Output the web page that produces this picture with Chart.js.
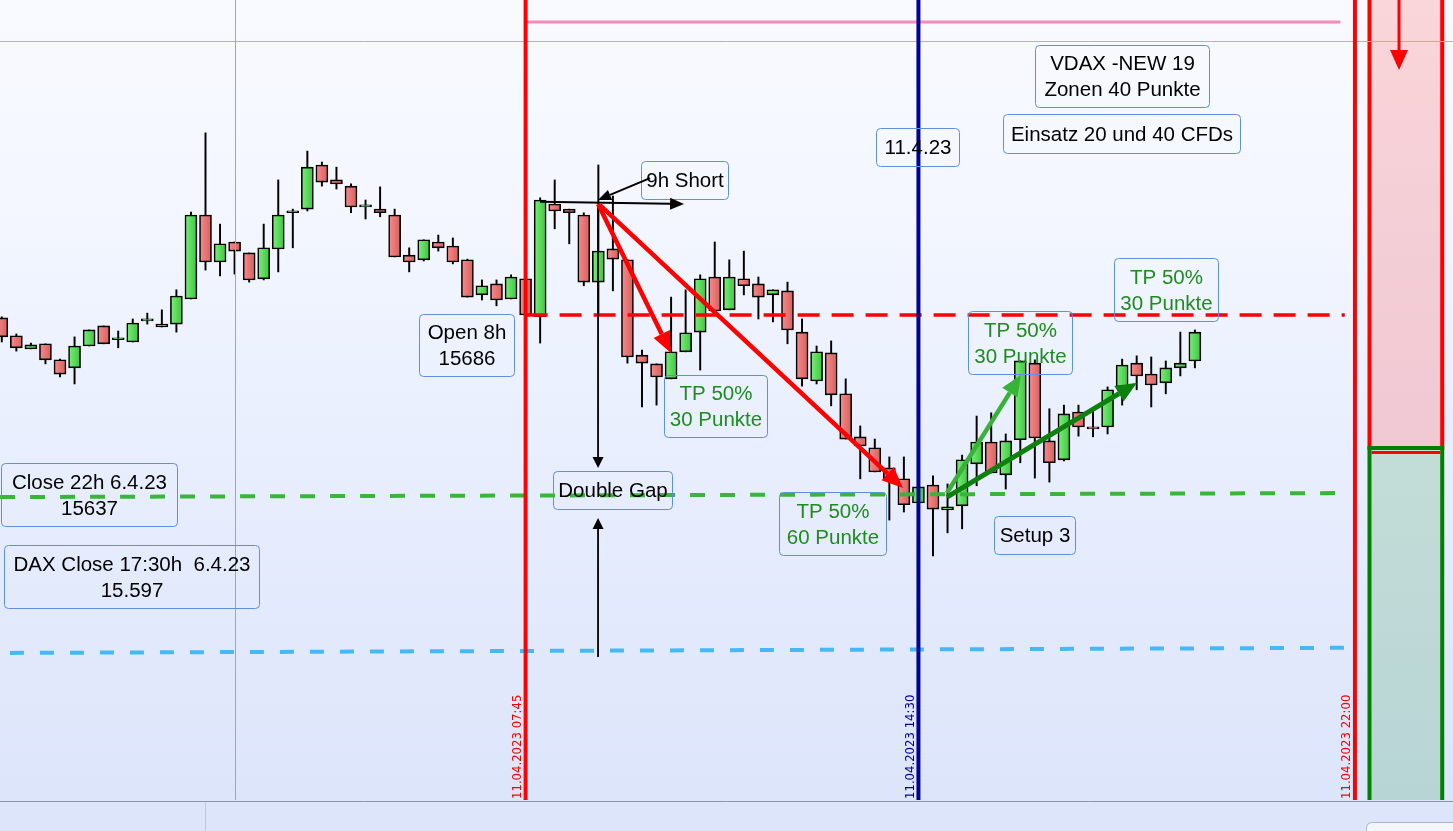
<!DOCTYPE html>
<html>
<head>
<meta charset="utf-8">
<script src="https://cdn.jsdelivr.net/npm/chart.js@4.4.0/dist/chart.umd.min.js"></script>
<style>
  html, body { margin: 0; padding: 0; background: #dde6fb; overflow: hidden; }
  #wrap { position: relative; width: 1453px; height: 831px; }
</style>
</head>
<body>
<div id="wrap"><canvas id="chart" width="1453" height="831"></canvas></div>
<script>
// 15-min candles, index 0..82 (07:45 = index 36, 14:30 = index 63, 22:00 = index 93)
const open = [15685.2, 15680.3, 15676.7, 15678.1, 15673.7, 15671.5, 15677.5, 15683.0, 15679.2, 15678.6,
  15684.4, 15683.5, 15683.5, 15690.4, 15713.4, 15700.5, 15706.0, 15703.0, 15695.9, 15704.1,
  15714.0, 15715.0, 15727.1, 15723.0, 15721.3, 15715.6, 15715.0, 15713.4, 15702.4, 15701.1,
  15706.0, 15704.9, 15701.1, 15691.5, 15694.5, 15690.4, 15695.9, 15685.5, 15716.4, 15715.0,
  15713.4, 15695.0, 15704.1, 15701.1, 15675.0, 15672.6, 15668.5, 15675.9, 15681.3, 15696.4,
  15687.4, 15695.9, 15694.5, 15691.5, 15692.6, 15681.3, 15667.9, 15675.6, 15664.4, 15652.6,
  15649.6, 15644.1, 15641.1, 15634.5, 15639.4, 15632.6, 15633.7, 15645.2, 15651.2, 15642.2,
  15651.8, 15672.8, 15651.5, 15646.3, 15659.4, 15655.3, 15655.3, 15666.3, 15672.8, 15669.8,
  15667.4, 15671.5, 15673.4];
const high = [15685.5, 15680.8, 15678.3, 15678.1, 15673.9, 15680.0, 15681.9, 15683.0, 15681.6, 15684.9,
  15686.5, 15687.4, 15692.9, 15714.2, 15735.9, 15710.9, 15706.0, 15703.0, 15710.9, 15723.0,
  15715.0, 15730.9, 15727.9, 15726.5, 15721.9, 15717.5, 15721.1, 15715.0, 15704.4, 15706.6,
  15707.9, 15707.1, 15701.3, 15695.6, 15695.6, 15697.0, 15697.0, 15718.1, 15723.0, 15715.0,
  15714.0, 15727.1, 15718.6, 15701.1, 15676.4, 15672.6, 15690.9, 15692.9, 15697.0, 15706.0,
  15701.1, 15703.5, 15696.4, 15692.9, 15695.0, 15684.9, 15677.5, 15678.9, 15668.5, 15655.6,
  15652.0, 15647.1, 15647.1, 15638.9, 15641.9, 15639.7, 15647.6, 15658.3, 15659.2, 15653.4,
  15673.4, 15673.7, 15660.3, 15661.3, 15661.3, 15659.7, 15666.3, 15673.9, 15674.8, 15674.5,
  15673.4, 15681.3, 15681.9];
const low = [15678.6, 15676.1, 15676.7, 15672.6, 15669.0, 15667.1, 15677.5, 15678.1, 15677.0, 15678.6,
  15683.5, 15682.7, 15681.3, 15690.4, 15698.3, 15696.7, 15697.2, 15695.0, 15695.6, 15697.8,
  15704.4, 15714.5, 15721.3, 15720.5, 15714.0, 15712.3, 15712.9, 15701.9, 15697.8, 15700.8,
  15703.5, 15700.0, 15690.9, 15690.1, 15688.5, 15690.4, 15685.5, 15678.3, 15709.6, 15705.5,
  15694.0, 15686.5, 15692.6, 15672.8, 15660.8, 15661.3, 15668.5, 15675.9, 15670.9, 15687.1,
  15687.4, 15691.5, 15684.9, 15684.1, 15678.1, 15666.5, 15667.1, 15661.1, 15652.0, 15641.1,
  15643.0, 15629.8, 15632.0, 15634.5, 15620.0, 15626.3, 15627.4, 15639.2, 15642.7, 15638.3,
  15645.5, 15641.3, 15640.2, 15646.0, 15652.8, 15652.6, 15653.4, 15661.3, 15665.5, 15660.8,
  15664.4, 15669.3, 15671.5];
const close = [15680.0, 15677.0, 15677.8, 15673.7, 15669.8, 15677.5, 15681.9, 15678.1, 15679.7, 15683.8,
  15684.4, 15682.7, 15691.2, 15713.4, 15700.5, 15705.5, 15703.5, 15695.6, 15704.4, 15713.4,
  15714.5, 15726.5, 15722.4, 15721.9, 15715.6, 15715.6, 15714.0, 15701.9, 15700.5, 15706.6,
  15704.4, 15700.5, 15690.9, 15694.0, 15690.1, 15696.4, 15686.0, 15717.5, 15714.5, 15714.0,
  15695.0, 15703.5, 15701.3, 15674.5, 15672.8, 15669.0, 15675.9, 15681.1, 15695.9, 15687.1,
  15696.4, 15694.0, 15690.9, 15692.9, 15681.9, 15668.5, 15675.9, 15664.1, 15652.0, 15650.1,
  15643.0, 15641.1, 15634.0, 15638.9, 15632.8, 15633.4, 15646.3, 15651.2, 15642.7, 15651.5,
  15673.4, 15652.3, 15645.5, 15658.9, 15655.3, 15654.8, 15665.5, 15672.3, 15669.3, 15666.8,
  15671.5, 15672.8, 15681.3];

// price levels
const open8h = 15686;
const close22h = [15636.1, 15637.2];
const daxClose = [15593.4, 15594.8];
const zoneTop = 15766.3;
const zoneSplit = 15649.0;

// time markers (candle index)
const markers = [
  { i: 36, label: '11.04.2023 07:45', color: '#ff0000' },
  { i: 63, label: '11.04.2023 14:30', color: '#00009c' },
  { i: 93, label: '11.04.2023 22:00', color: '#ff0000' }
];

const GREEN_TXT = '#1f8c1f';
const boxes = [
  { x1: 71.01, x2: 82.97, y1: 15760.0, y2: 15743.0, lines: ['VDAX -NEW 19', 'Zonen 40 Punkte'] },
  { x1: 68.81, x2: 85.10, y1: 15741.1, y2: 15730.4, lines: ['Einsatz 20 und 40 CFDs'] },
  { x1: 60.08, x2: 65.79, y1: 15737.2, y2: 15726.8, lines: ['11.4.23'] },
  { x1: 43.93, x2: 49.91, y1: 15728.2, y2: 15717.8, lines: ['9h Short'] },
  { x1: 28.67, x2: 35.20, y1: 15686.3, y2: 15669.3, lines: ['Open 8h', '15686'] },
  { x1: 45.51, x2: 52.59, y1: 15669.6, y2: 15652.6, lines: ['TP 50%', '30 Punkte'], color: GREEN_TXT },
  { x1: 37.88, x2: 46.06, y1: 15643.3, y2: 15632.8, lines: ['Double Gap'] },
  { x1: -0.05, x2: 12.04, y1: 15645.5, y2: 15628.2, lines: ['Close 22h 6.4.23', '15637'] },
  { x1: 0.15, x2: 17.68, y1: 15623.0, y2: 15605.7, lines: ['DAX Close 17:30h  6.4.23', '15.597'] },
  { x1: 53.42, x2: 60.77, y1: 15637.5, y2: 15620.2, lines: ['TP 50%', '60 Punkte'], color: GREEN_TXT },
  { x1: 68.19, x2: 73.76, y1: 15630.9, y2: 15620.5, lines: ['Setup 3'] },
  { x1: 66.40, x2: 73.55, y1: 15687.1, y2: 15669.8, lines: ['TP 50%', '30 Punkte'], color: GREEN_TXT },
  { x1: 76.44, x2: 83.59, y1: 15701.6, y2: 15684.4, lines: ['TP 50%', '30 Punkte'], color: GREEN_TXT }
];

const arrows = [
  { from: [44.55, 15723.5], to: [40.98, 15717.5], color: '#000', lw: 2, hl: 13, hw: 11 },
  { from: [36.99, 15717.0], to: [46.89, 15716.4], color: '#000', lw: 2, hl: 14, hw: 12 },
  { from: [40.98, 15716.1], to: [40.98, 15644.1], color: '#000', lw: 1.8, hl: 11, hw: 11 },
  { from: [40.98, 15592.3], to: [40.98, 15630.4], color: '#000', lw: 1.8, hl: 11, hw: 11 },
  { from: [40.98, 15716.4], to: [45.99, 15675.6], color: '#ff0000', lw: 4.5, hl: 21, hw: 18 },
  { from: [41.11, 15716.1], to: [61.94, 15638.6], color: '#ff0000', lw: 4.5, hl: 21, hw: 18 },
  { from: [64.96, 15637.2], to: [70.05, 15669.6], color: '#38b238', lw: 4.5, hl: 21, hw: 18 },
  { from: [64.96, 15636.1], to: [78.02, 15667.4], color: '#0e800e', lw: 5, hl: 21, hw: 18 },
  { from: [96.03, 15775], to: [96.03, 15753.1], color: '#ff0000', lw: 3, hl: 20, hw: 18 }
];

const idx = open.map((_, i) => i);

function bodyFill(c) {
  const up = close[c.dataIndex] >= open[c.dataIndex];
  const chart = c.chart;
  const sx = chart.scales && chart.scales.x;
  if (c.type !== 'data' || !chart.chartArea || !sx) return up ? '#55d855' : '#e87272';
  const px = sx.getPixelForValue(c.dataIndex);
  const g = chart.ctx.createLinearGradient(px - 6, 0, px + 6, 0);
  if (up) { g.addColorStop(0, '#7cee7c'); g.addColorStop(1, '#3cc63c'); }
  else { g.addColorStop(0, '#f68c8c'); g.addColorStop(1, '#d85e5e'); }
  return g;
}

function arrow(ctx, x1, y1, x2, y2, color, lw, hl, hw) {
  const a = Math.atan2(y2 - y1, x2 - x1);
  const bx = x2 - Math.cos(a) * hl, by = y2 - Math.sin(a) * hl;
  ctx.strokeStyle = color; ctx.fillStyle = color; ctx.lineWidth = lw;
  ctx.setLineDash([]);
  ctx.beginPath(); ctx.moveTo(x1, y1); ctx.lineTo(bx, by); ctx.stroke();
  ctx.beginPath();
  ctx.moveTo(x2, y2);
  ctx.lineTo(bx + Math.sin(a) * hw / 2, by - Math.cos(a) * hw / 2);
  ctx.lineTo(bx - Math.sin(a) * hw / 2, by + Math.cos(a) * hw / 2);
  ctx.closePath(); ctx.fill();
}

function rrect(ctx, x, y, w, h, r) {
  ctx.beginPath();
  ctx.moveTo(x + r, y); ctx.lineTo(x + w - r, y); ctx.quadraticCurveTo(x + w, y, x + w, y + r);
  ctx.lineTo(x + w, y + h - r); ctx.quadraticCurveTo(x + w, y + h, x + w - r, y + h);
  ctx.lineTo(x + r, y + h); ctx.quadraticCurveTo(x, y + h, x, y + h - r);
  ctx.lineTo(x, y + r); ctx.quadraticCurveTo(x, y, x + r, y);
  ctx.closePath();
}

const overlay = {
  id: 'overlay',
  beforeDraw(chart) {
    const ctx = chart.ctx, W = chart.width, H = chart.height, a = chart.chartArea;
    const g = ctx.createLinearGradient(0, 0, 0, a.bottom);
    g.addColorStop(0, '#f8faff');
    g.addColorStop(0.25, '#f4f7ff');
    g.addColorStop(0.5, '#eaf0fe');
    g.addColorStop(0.75, '#e3eafc');
    g.addColorStop(1, '#dde5fb');
    ctx.save();
    ctx.fillStyle = g; ctx.fillRect(0, 0, W, a.bottom);
    ctx.fillStyle = '#dde5fa'; ctx.fillRect(0, a.bottom, W, H - a.bottom);
    ctx.strokeStyle = '#8a96a6'; ctx.lineWidth = 1;
    ctx.beginPath(); ctx.moveTo(0, a.bottom + 1.5); ctx.lineTo(W, a.bottom + 1.5); ctx.stroke();
    ctx.strokeStyle = '#bcc8dc';
    ctx.beginPath(); ctx.moveTo(205.5, a.bottom + 2); ctx.lineTo(205.5, H); ctx.stroke();
    ctx.fillStyle = '#f4f6fb'; ctx.strokeStyle = '#aab4c4';
    rrect(ctx, 1366.5, a.bottom + 22.5, 100, 20, 6); ctx.fill(); ctx.stroke();
    ctx.restore();
  },
  afterDatasetsDraw(chart) {
    const ctx = chart.ctx, a = chart.chartArea;
    const X = v => chart.scales.x.getPixelForValue(v);
    const Y = v => chart.scales.y.getPixelForValue(v);
    ctx.save();
    ctx.beginPath(); ctx.rect(a.left, a.top, a.right - a.left, a.bottom - a.top); ctx.clip();

    // zone panel
    const px1 = X(94), px2 = X(99), py = Y(zoneSplit);
    let gz = ctx.createLinearGradient(0, a.top, 0, py);
    gz.addColorStop(0, '#fad5d9'); gz.addColorStop(1, '#efc8d3');
    ctx.fillStyle = gz; ctx.fillRect(px1, a.top, px2 - px1, py - a.top);
    gz = ctx.createLinearGradient(0, py, 0, a.bottom);
    gz.addColorStop(0, '#c3ddd7'); gz.addColorStop(1, '#b8d5d6');
    ctx.fillStyle = gz; ctx.fillRect(px1, py, px2 - px1, a.bottom - py);
    ctx.lineWidth = 4; ctx.strokeStyle = '#ff0000';
    ctx.beginPath(); ctx.moveTo(px1, a.top); ctx.lineTo(px1, py); ctx.moveTo(px2, a.top); ctx.lineTo(px2, py); ctx.stroke();
    ctx.strokeStyle = '#008000';
    ctx.beginPath(); ctx.moveTo(px1, a.bottom); ctx.lineTo(px1, py - 2); ctx.lineTo(px2, py - 2); ctx.lineTo(px2, a.bottom); ctx.stroke();
    ctx.strokeStyle = '#ff0000'; ctx.lineWidth = 3;
    ctx.beginPath(); ctx.moveTo(px1 + 2, py + 2.5); ctx.lineTo(px2 - 2, py + 2.5); ctx.stroke();

    // thin horizontal line and pink zone line
    ctx.lineWidth = 1; ctx.strokeStyle = '#f29a9a';
    ctx.beginPath(); ctx.moveTo(a.left, Math.round(Y(15761.1)) + 0.5); ctx.lineTo(a.right, Math.round(Y(15761.1)) + 0.5); ctx.stroke();
    ctx.lineWidth = 3; ctx.strokeStyle = '#ff88bb';
    ctx.beginPath(); ctx.moveTo(X(36), Y(zoneTop)); ctx.lineTo(X(92), Y(zoneTop)); ctx.stroke();

    // thin red vertical
    ctx.lineWidth = 1; ctx.strokeStyle = '#f58484';
    ctx.beginPath(); ctx.moveTo(Math.round(X(16)) + 0.5, a.top); ctx.lineTo(Math.round(X(16)) + 0.5, a.bottom); ctx.stroke();

    // dashed levels
    ctx.lineWidth = 3.5; ctx.strokeStyle = '#ff0000'; ctx.setLineDash([22, 12]);
    ctx.beginPath(); ctx.moveTo(X(36), Y(open8h)); ctx.lineTo(X(92.3), Y(open8h)); ctx.stroke();
    ctx.lineWidth = 4; ctx.strokeStyle = '#3ab53a'; ctx.setLineDash([15, 15]);
    ctx.beginPath(); ctx.moveTo(X(-0.12), Y(close22h[0])); ctx.lineTo(X(92.3), Y(close22h[1])); ctx.stroke();
    ctx.strokeStyle = '#45b9f6'; ctx.setLineDash([14, 16]);
    ctx.beginPath(); ctx.moveTo(X(0.56), Y(daxClose[0])); ctx.lineTo(X(92.3), Y(daxClose[1])); ctx.stroke();
    ctx.setLineDash([]);

    // time marker lines + rotated labels
    markers.forEach(m => {
      const x = X(m.i);
      ctx.lineWidth = 4; ctx.strokeStyle = m.color;
      ctx.beginPath(); ctx.moveTo(x, a.top); ctx.lineTo(x, a.bottom); ctx.stroke();
      ctx.save();
      ctx.translate(x - 8, a.bottom - 1);
      ctx.rotate(-Math.PI / 2);
      ctx.fillStyle = m.color;
      ctx.font = '13px "Liberation Sans Narrow", "DejaVu Sans Condensed", sans-serif';
      ctx.textAlign = 'left'; ctx.textBaseline = 'middle';
      ctx.fillText(m.label, 0, 0);
      ctx.restore();
    });

    // text boxes
    ctx.font = '20.5px "Liberation Sans", Arial, sans-serif';
    ctx.textAlign = 'center'; ctx.textBaseline = 'middle';
    boxes.forEach(b => {
      const x1 = Math.round(X(b.x1)) + 0.5, x2 = Math.round(X(b.x2)) + 0.5;
      const y1 = Math.round(Y(b.y1)) + 0.5, y2 = Math.round(Y(b.y2)) + 0.5;
      ctx.lineWidth = 1; ctx.strokeStyle = '#5d8fe3';
      rrect(ctx, x1, y1, x2 - x1, y2 - y1, 4); ctx.stroke();
      ctx.fillStyle = b.color || '#000';
      const cx = (x1 + x2) / 2, cy = (y1 + y2) / 2 + 1;
      const n = b.lines.length;
      b.lines.forEach((t, k) => ctx.fillText(t, cx, cy + (k - (n - 1) / 2) * 26));
    });

    // arrows
    arrows.forEach(r => arrow(ctx, X(r.from[0]), Y(r.from[1]), X(r.to[0]), Y(r.to[1]), r.color, r.lw, r.hl, r.hw));
    ctx.restore();
  }
};

new Chart(document.getElementById('chart'), {
  type: 'bar',
  data: {
    datasets: [
      {
        label: 'Body',
        data: idx.map(i => ({ x: i, y: [open[i], close[i]] })),
        backgroundColor: bodyFill,
        borderColor: '#000',
        borderWidth: 1.6,
        borderSkipped: false,
        barThickness: 12,
        minBarLength: 2,
        grouped: false,
        order: 0
      },
      {
        label: 'Wick',
        data: idx.map(i => ({ x: i, y: [low[i], high[i]] })),
        backgroundColor: '#000',
        borderWidth: 0,
        barThickness: 1.3,
        grouped: false,
        order: 1
      }
    ]
  },
  options: {
    responsive: false,
    animation: false,
    devicePixelRatio: 1,
    layout: { padding: { left: 0, right: 0, top: 0, bottom: 31 } },
    plugins: { legend: { display: false }, tooltip: { enabled: false } },
    scales: {
      x: { type: 'linear', min: -0.124, max: 99.74, offset: false, display: false, grid: { display: false } },
      y: { type: 'linear', min: 15553.1, max: 15772.3, display: false, grid: { display: false } }
    }
  },
  plugins: [overlay]
});
</script>
</body>
</html>
